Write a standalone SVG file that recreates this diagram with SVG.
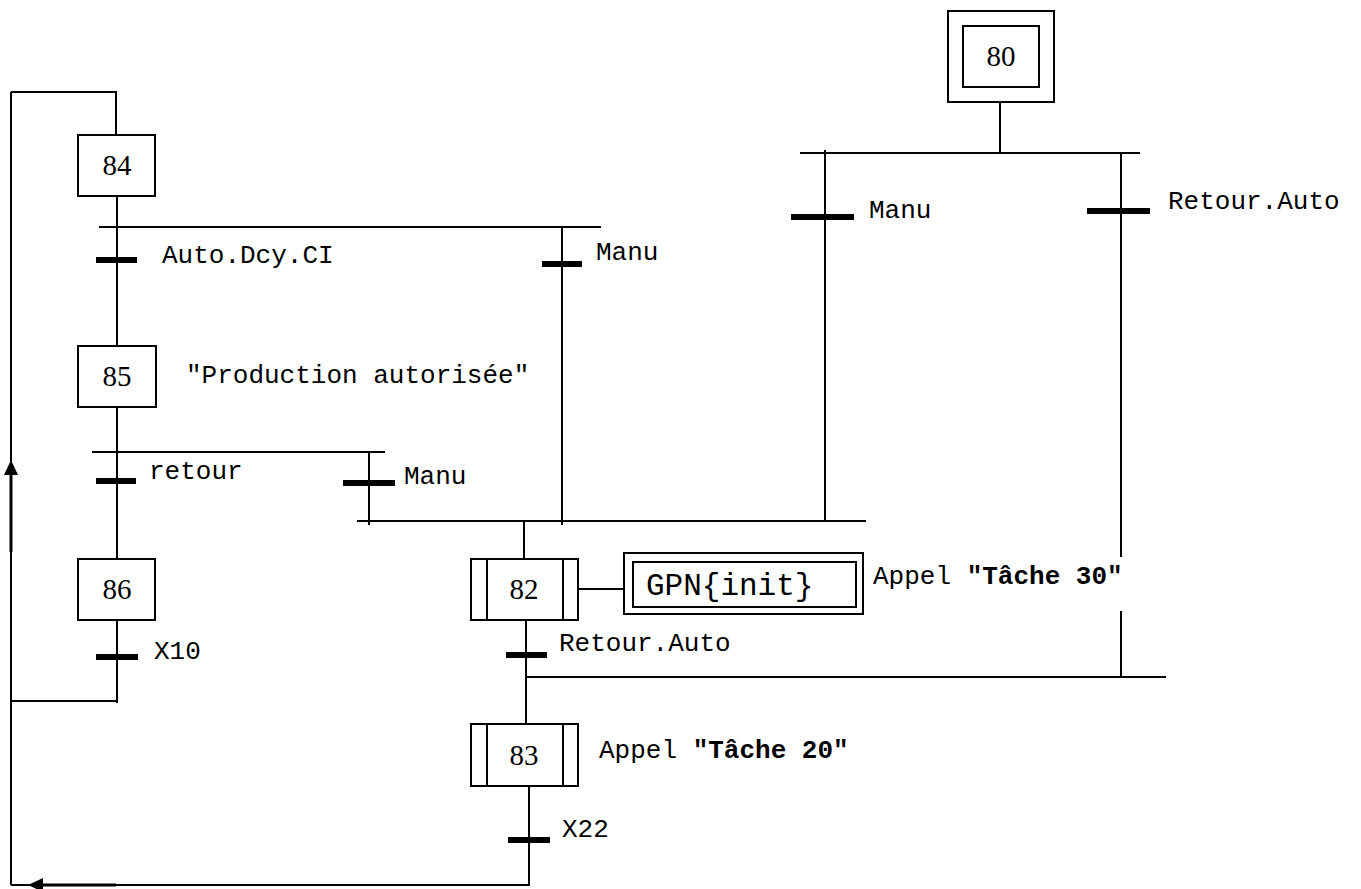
<svg xmlns="http://www.w3.org/2000/svg" width="1361" height="889" viewBox="0 0 1361 889">
<style>
.ln{stroke:#000;stroke-width:2;fill:none}
.bx{stroke:#000;stroke-width:2;fill:#fff}
.bar{stroke:#000;stroke-width:6;fill:none}
.num{font-family:"Liberation Serif","Times New Roman",serif;font-size:29px;fill:#000;text-anchor:middle}
.lbl{font-family:"Liberation Mono","Courier New",monospace;font-size:26px;fill:#000}
.b{font-weight:bold}
.ah{fill:#000;stroke:none}
</style>
<rect width="1361" height="889" fill="#fff"/>
<g id="connectors">
<path class="ln" d="M11,92 V885"/>
<path class="ln" d="M11,92 H116 V135"/>
<path d="M11,552 V472" stroke="#000" stroke-width="3" fill="none"/>
<polygon class="ah" points="11,460 4,475 18,475"/>
<path class="ln" d="M117,196 V346"/>
<path class="ln" d="M99,227 H601"/>
<path class="ln" d="M562,227 V525"/>
<path class="ln" d="M117,407 V559"/>
<path class="ln" d="M92,452 H385"/>
<path class="ln" d="M369,452 V525"/>
<path class="ln" d="M117,620 V703"/>
<path class="ln" d="M11,701 H117"/>
<path class="ln" d="M1000,102 V153"/>
<path class="ln" d="M800,153 H1140"/>
<path class="ln" d="M825,150 V521"/>
<path class="ln" d="M1121,153 V557"/>
<path class="ln" d="M1121,611 V678"/>
<path class="ln" d="M357,521 H866"/>
<path class="ln" d="M524,521 V559"/>
<path class="ln" d="M578,589 H624"/>
<path class="ln" d="M526,620 V724"/>
<path class="ln" d="M526,677 H1166"/>
<path class="ln" d="M529,786 V885 H11"/>
<path d="M116,885 H40" stroke="#000" stroke-width="3" fill="none"/>
<polygon class="ah" points="28,885 43,878 43,892"/>
</g>
<g id="transitions">
<line id="t-auto" class="bar" x1="96" y1="260" x2="137" y2="260"/>
<line id="t-manu1" class="bar" x1="542" y1="264" x2="582" y2="264"/>
<line id="t-retour" class="bar" x1="96" y1="481" x2="136" y2="481"/>
<line id="t-manu2" class="bar" x1="343" y1="483" x2="395" y2="483"/>
<line id="t-x10" class="bar" x1="96" y1="657" x2="138" y2="657"/>
<line id="t-manu3" class="bar" x1="791" y1="217" x2="854" y2="217"/>
<line id="t-retauto1" class="bar" x1="1087" y1="211" x2="1150" y2="211"/>
<line id="t-retauto2" class="bar" x1="506" y1="655" x2="547" y2="655"/>
<line id="t-x22" class="bar" x1="508" y1="840" x2="550" y2="840"/>
</g>
<g id="step-80">
<rect class="bx" x="948" y="11" width="106" height="91"/>
<rect class="bx" x="963" y="26" width="76" height="61"/>
<text class="num" x="1001" y="66">80</text>
</g>
<g id="step-84">
<rect class="bx" x="78" y="135" width="77" height="61"/>
<text class="num" x="117" y="175">84</text>
</g>
<g id="step-85">
<rect class="bx" x="78" y="346" width="78" height="61"/>
<text class="num" x="117" y="386">85</text>
</g>
<g id="step-86">
<rect class="bx" x="78" y="559" width="77" height="61"/>
<text class="num" x="117" y="599">86</text>
</g>
<g id="step-82">
<rect class="bx" x="471" y="559" width="107" height="61"/>
<line class="ln" x1="487" y1="559" x2="487" y2="620"/>
<line class="ln" x1="563" y1="559" x2="563" y2="620"/>
<text class="num" x="524" y="599">82</text>
</g>
<g id="step-83">
<rect class="bx" x="471" y="724" width="107" height="62"/>
<line class="ln" x1="487" y1="724" x2="487" y2="786"/>
<line class="ln" x1="563" y1="724" x2="563" y2="786"/>
<text class="num" x="524" y="765">83</text>
</g>
<g id="action-gpn">
<rect class="bx" x="624" y="553" width="239" height="61"/>
<rect class="bx" x="633" y="562" width="223" height="45"/>
<text class="lbl" x="646" y="595" style="font-size:31px">GPN{init}</text>
</g>
<g id="labels">
<text class="lbl" x="162" y="263">Auto.Dcy.CI</text>
<text class="lbl" x="596" y="260">Manu</text>
<text class="lbl" x="186" y="383">"Production autorisée"</text>
<text class="lbl" x="149" y="479">retour</text>
<text class="lbl" x="404" y="484">Manu</text>
<text class="lbl" x="154" y="659">X10</text>
<text class="lbl" x="869" y="218">Manu</text>
<text class="lbl" x="1168" y="209">Retour.Auto</text>
<text class="lbl" x="873" y="584">Appel <tspan class="b">"Tâche 30"</tspan></text>
<text class="lbl" x="559" y="651">Retour.Auto</text>
<text class="lbl" x="599" y="758">Appel <tspan class="b">"Tâche 20"</tspan></text>
<text class="lbl" x="562" y="837">X22</text>
</g>
</svg>
